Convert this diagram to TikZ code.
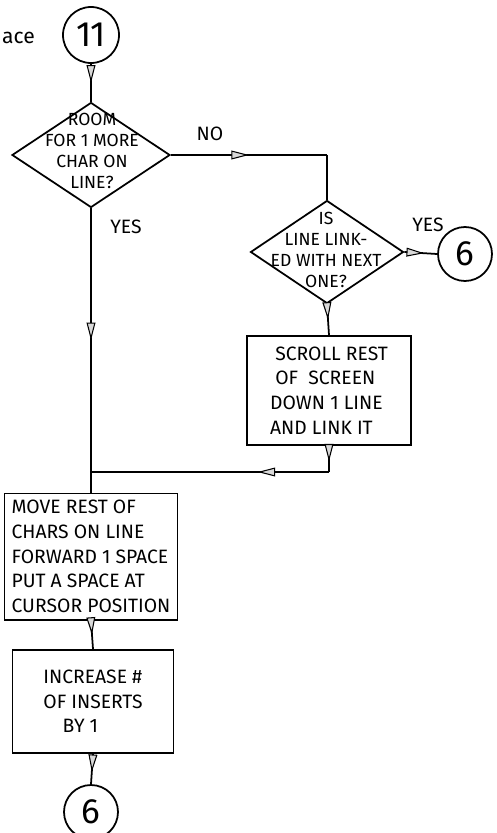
\documentclass[tikz,border=0pt]{standalone}
\usepackage{fontspec}
\setmainfont{Fira Sans}
\usetikzlibrary{arrows.meta,positioning,shapes.geometric,decorations.markings}

\tikzset{
  flow/.style={line width=1pt},
  midarrow/.style={postaction={decorate},decoration={markings,
      mark=at position #1 with {\arrow{Triangle[width=5pt,length=10pt,fill=gray!30,line width=0.6pt]}}}},
  midarrow/.default=0.5,
  conn/.style={circle, draw, line width=1pt, inner sep=0pt, font=\fontsize{20}{20}\selectfont},
  decision/.style={diamond, draw, line width=1pt, inner sep=0pt},
  dtext/.style={align=center, font=\fontsize{10}{12}\selectfont},
  stepbox/.style={draw, line width=1pt, inner sep=4pt, font=\fontsize{11}{14}\selectfont},
  tag/.style={font=\fontsize{11}{13}\selectfont}
}

\begin{document}
\begin{tikzpicture}[x=1cm,y=1cm]
  \useasboundingbox (0,0) rectangle (9.92,-16.66);
  \node[tag, anchor=west] (cut) at (-0.08,-0.76) {\fontsize{12}{14}\selectfont ace};
  % connectors and decisions
  \node[conn, minimum size=1.12cm] (c11) at (1.82,-0.70) {11};
  \node[decision, minimum width=3.16cm, minimum height=2.10cm] (d1) at (1.82,-3.10) {};
  \node[dtext] (d1t) at (1.84,-3.02) {ROOM\\FOR 1 MORE\\CHAR ON\\LINE?};
  \node[decision, minimum width=3.06cm, minimum height=2.06cm] (d2) at (6.54,-5.04) {};
  \node[dtext] (d2t) at (6.52,-5.00) {IS\\LINE LINK-\\ED WITH NEXT\\ONE?};
  \node[conn, minimum size=1.08cm] (c6a) at (9.30,-5.08) {6};
  % process boxes
  \node[stepbox, minimum width=3.28cm, minimum height=2.18cm, align=left] (b1) at (6.58,-7.81)
    {\ SCROLL REST\\\ OF\ \ SCREEN\\DOWN 1 LINE\\AND LINK IT};
  \node[stepbox, minimum width=3.22cm, minimum height=2.10cm, align=left] (b2) at (1.82,-11.13)
    {MOVE REST OF\\CHARS ON LINE\\FORWARD 1 SPACE\\PUT A SPACE AT\\CURSOR POSITION};
  \node[stepbox, minimum width=3.22cm, minimum height=2.06cm, align=left] (b3) at (1.86,-14.03)
    {INCREASE \#\\OF INSERTS\\\quad BY 1};
  \node[conn, minimum size=1.08cm] (c6b) at (1.82,-16.24) {6};
  % labels
  \node[tag] (no1) at (4.20,-2.68) {NO};
  \node[tag] (yes1) at (2.52,-4.54) {YES};
  \node[tag] (yes2) at (8.56,-4.50) {YES};
  % lines
  \coordinate (k1) at (d1.east -| d2.north);
  \coordinate (k2) at (b1.south |- 0,-9.44);
  \coordinate (m1) at (d1.south |- 0,-9.44);
  \draw[flow, midarrow] (c11) -- (d1.north);
  \draw[flow, midarrow] (d1.east) -- (k1);
  \draw[flow] (k1) -- (d2.north);
  \draw[flow, midarrow=0.5] (d1.south) -- (m1);
  \draw[flow] (m1) -- (b2.north);
  \draw[flow, midarrow=0.6] (d2.east) -- (c6a.west);
  \draw[flow, midarrow] (d2.south) -- (b1.north);
  \draw[flow, midarrow=0.6] (b1.south) -- (k2);
  \draw[flow, midarrow=0.3] (k2) -- (m1);
  \draw[flow, midarrow] (b2.south) -- (b3.north);
  \draw[flow, midarrow=0.6] (b3.south) -- (c6b.north);
\end{tikzpicture}
\end{document}
